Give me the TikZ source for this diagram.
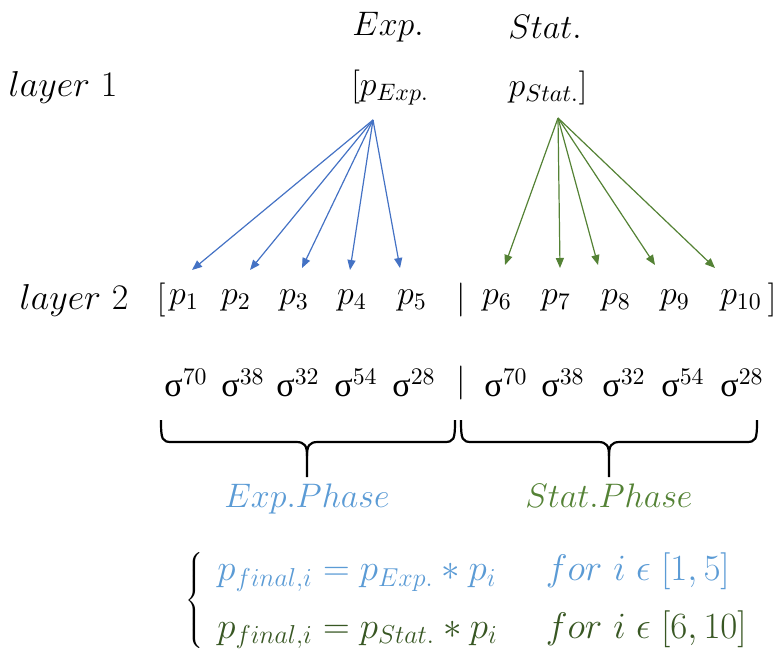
\RequirePackage{fix-cm}
\documentclass[tikz,border=0pt]{standalone}
\usepackage{fontspec}
\newfontfamily\grk{Liberation Serif}
\usetikzlibrary{arrows.meta}
\definecolor{arrblue}{HTML}{4472C4}
\definecolor{arrgreen}{HTML}{548235}
\definecolor{phblue}{HTML}{5B9BD5}
\definecolor{phgreen}{HTML}{548235}
\definecolor{eqgreen}{HTML}{385723}
\tikzset{
  lbl/.style={font=\fontsize{17}{20}\selectfont, inner sep=1pt},
  layerlbl/.style={font=\fontsize{18}{22}\selectfont, inner sep=1pt},
  eqlbl/.style={font=\fontsize{18.5}{22}\selectfont, inner sep=1pt},
  flowb/.style={-{Triangle[length=5pt,width=4pt]}, line width=0.6pt, draw=arrblue},
  flowg/.style={-{Triangle[length=5pt,width=4pt]}, line width=0.6pt, draw=arrgreen},
  brk/.style={line width=1.1pt, draw=black}
}
\newcommand{\sg}[1]{{\grk σ}$^{#1}$}

\begin{document}
\begin{tikzpicture}[x=0.5pt,y=-0.5pt]
  \useasboundingbox (0,0) rectangle (779,657);

  % layer 1
  \node[lbl] (hexp) at (388,27) {$Exp.$};
  \node[lbl] (hstat) at (545,27) {$Stat.$};
  \node[layerlbl] (l1) at (63,88) {$layer\ 1$};
  \node[lbl] (pexp) at (390,88) {$[p_{Exp.}$};
  \node[lbl] (pstat) at (548,88) {$p_{Stat.}]$};
  \coordinate (sexp) at (373,120);
  \coordinate (sstat) at (558,118);

  % layer 2
  \node[layerlbl] (l2) at (74,300) {$layer\ 2$};
  \node[lbl] (lb) at (161,300) {$[$};
  \node[lbl] (p1) at (184,300) {$p_1$};
  \node[lbl] (p2) at (236,300) {$p_2$};
  \node[lbl] (p3) at (294,300) {$p_3$};
  \node[lbl] (p4) at (352,300) {$p_4$};
  \node[lbl] (p5) at (412,300) {$p_5$};
  \node[lbl] (bar) at (461,300) {$|$};
  \node[lbl] (p6) at (497,300) {$p_6$};
  \node[lbl] (p7) at (556,300) {$p_7$};
  \node[lbl] (p8) at (616,300) {$p_8$};
  \node[lbl] (p9) at (675,300) {$p_9$};
  \node[lbl] (p10) at (741,300) {$p_{10}$};
  \node[lbl] (rb) at (772,300) {$]$};

  % arrow ends
  \coordinate (t1) at (192,270);
  \coordinate (t2) at (250,270);
  \coordinate (t3) at (302,268);
  \coordinate (t4) at (350,270);
  \coordinate (t5) at (400,268);
  \coordinate (t6) at (505,265);
  \coordinate (t7) at (560,268);
  \coordinate (t8) at (598,265);
  \coordinate (t9) at (655,265);
  \coordinate (t10) at (715,268);

  \draw[flowb] (sexp) -- (t1);
  \draw[flowb] (sexp) -- (t2);
  \draw[flowb] (sexp) -- (t3);
  \draw[flowb] (sexp) -- (t4);
  \draw[flowb] (sexp) -- (t5);
  \draw[flowg] (sstat) -- (t6);
  \draw[flowg] (sstat) -- (t7);
  \draw[flowg] (sstat) -- (t8);
  \draw[flowg] (sstat) -- (t9);
  \draw[flowg] (sstat) -- (t10);

  % sigma row
  \node[lbl] (s1) at (186,383) {\sg{70}};
  \node[lbl] (s2) at (243,383) {\sg{38}};
  \node[lbl] (s3) at (298,383) {\sg{32}};
  \node[lbl] (s4) at (356,383) {\sg{54}};
  \node[lbl] (s5) at (414,383) {\sg{28}};
  \node[lbl] (sbar) at (461,383) {$|$};
  \node[lbl] (s6) at (506,383) {\sg{70}};
  \node[lbl] (s7) at (563,383) {\sg{38}};
  \node[lbl] (s8) at (624,383) {\sg{32}};
  \node[lbl] (s9) at (683,383) {\sg{54}};
  \node[lbl] (s10) at (742,383) {\sg{28}};

  % braces
  \draw[brk] (161,420) .. controls (161,440) and (162,442) .. (172,442) -- (296,442)
    .. controls (305,442) and (307,446) .. (307,456) -- (307,477);
  \draw[brk] (455,420) .. controls (455,440) and (454,442) .. (444,442) -- (318,442)
    .. controls (309,442) and (307,446) .. (307,456);
  \draw[brk] (461,420) .. controls (461,440) and (462,442) .. (472,442) -- (598,442)
    .. controls (607,442) and (609,446) .. (609,456) -- (609,477);
  \draw[brk] (757,420) .. controls (757,440) and (756,442) .. (746,442) -- (620,442)
    .. controls (611,442) and (609,446) .. (609,456);
  \coordinate (bexp) at (307,477);
  \coordinate (bstat) at (609,477);

  \node[lbl, text=phblue, below=2pt] (phexp) at (bexp) {$Exp.Phase$};
  \node[lbl, text=phgreen, below=2pt] (phstat) at (bstat) {$Stat.Phase$};

  % final
  \node[eqlbl, inner sep=0pt] (ebr) at (194,601) {$\left\{\vphantom{\rule[-20pt]{0pt}{44pt}}\right.\kern-\nulldelimiterspace$};
  \node[eqlbl, anchor=west] (eqs) at (215,598) {$\renewcommand{\arraystretch}{1.3}\begin{array}{@{}l@{\hspace{1.3em}}l@{}}
    \color{phblue} p_{final,i} = p_{Exp.} * p_i & \color{phblue} for\ i \mathrel{\epsilon} [1,5] \\
    \color{eqgreen} p_{final,i} = p_{Stat.} * p_i & \color{eqgreen} for\ i \mathrel{\epsilon} [6,10]
  \end{array}$};
\end{tikzpicture}
\end{document}
